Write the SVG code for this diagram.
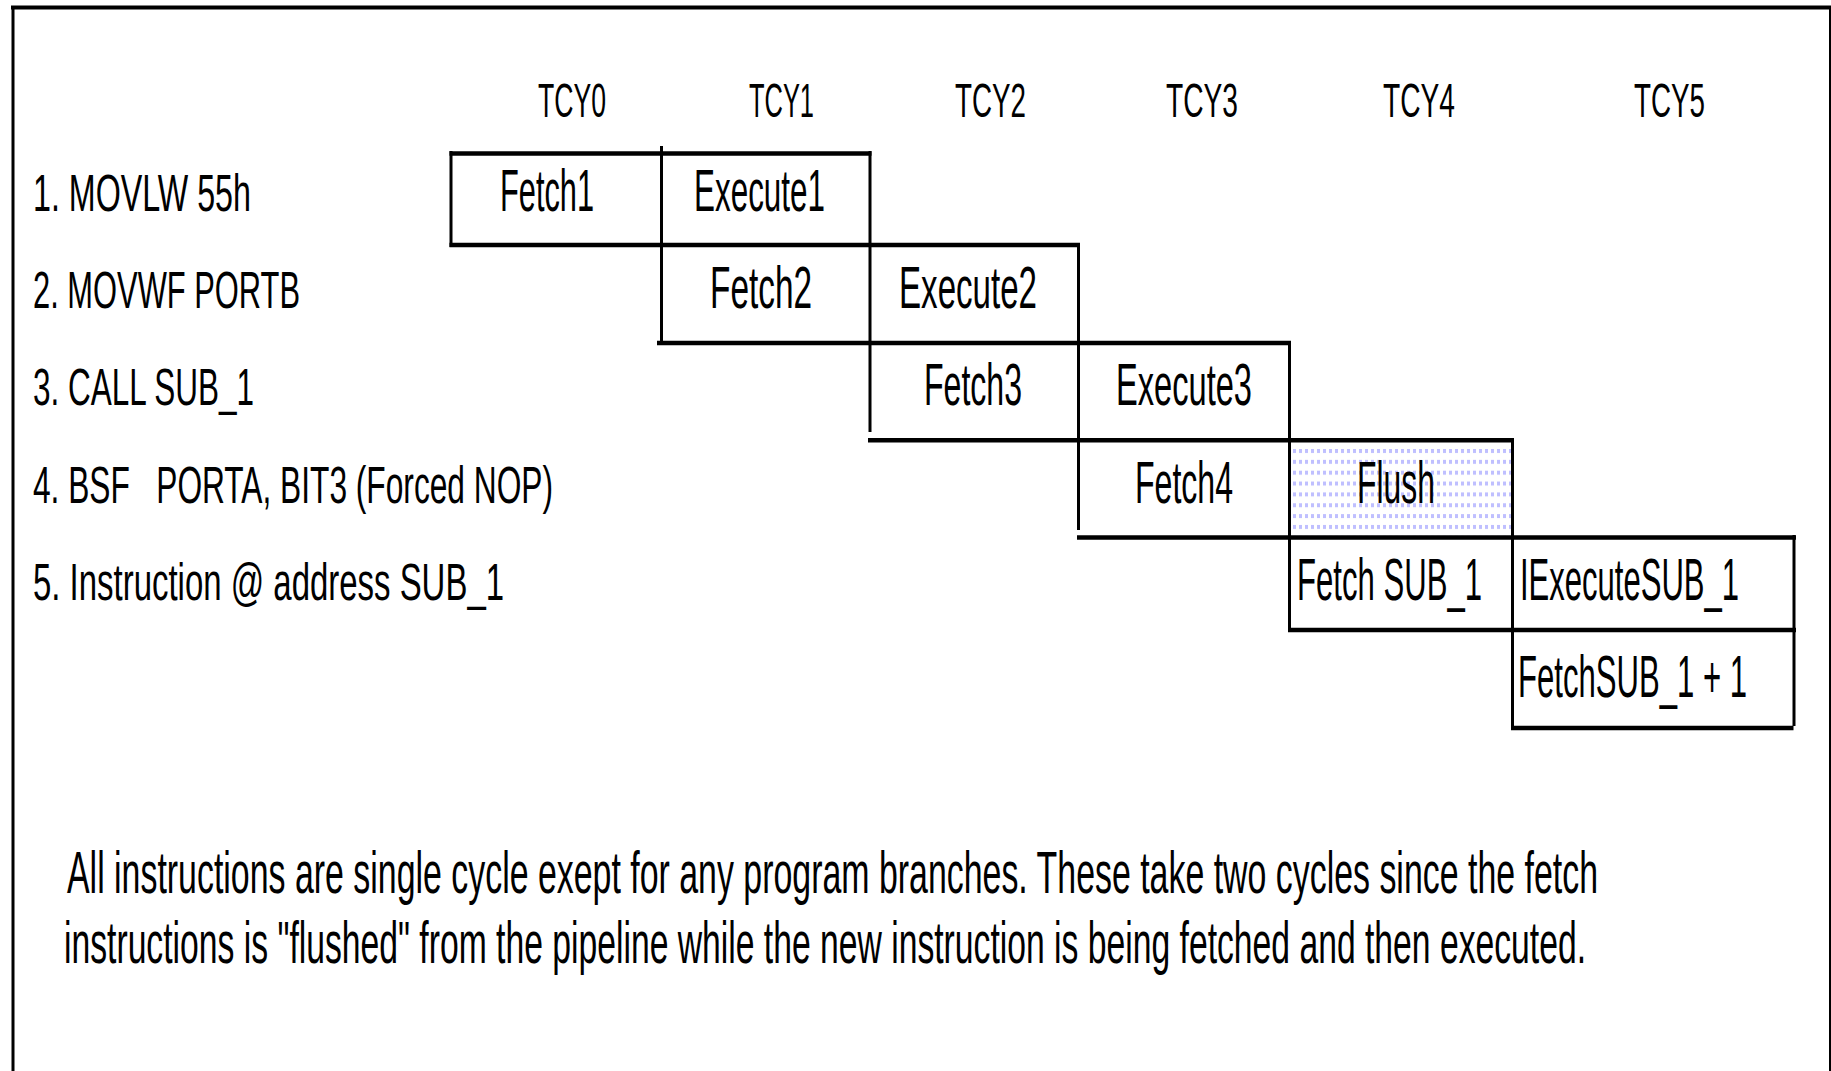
<svg xmlns="http://www.w3.org/2000/svg" width="1831" height="1071" viewBox="0 0 1831 1071">
<style>
text{font-family:"Liberation Sans",Arial,sans-serif;fill:#000}
.hdr{font-size:49px}
.lbl{font-size:51px}
.cell{font-size:60px}
.para{font-size:60px}
.h{stroke:#000;stroke-width:4.5;fill:none}
.v{stroke:#000;stroke-width:3;fill:none}
</style>
<defs>
<pattern id="dots" patternUnits="userSpaceOnUse" x="1293" y="449" width="6" height="10.85">
<rect x="0" y="0" width="3" height="4" fill="#bfbfff"/>
</pattern>
</defs>
<rect x="0" y="0" width="1831" height="1071" fill="#fff"/>
<g id="frame">
<line x1="11" y1="7.5" x2="1831" y2="7.5" stroke="#000" stroke-width="4"/>
<line x1="13" y1="6" x2="13" y2="1071" stroke="#000" stroke-width="3"/>
<line x1="1830" y1="6" x2="1830" y2="1071" stroke="#000" stroke-width="2"/>
</g>
<g id="headers">
<text class="hdr" transform="translate(538,117) scale(0.55,1)" textLength="123.6" lengthAdjust="spacingAndGlyphs">TCY0</text>
<text class="hdr" transform="translate(749,117) scale(0.55,1)" textLength="118.2" lengthAdjust="spacingAndGlyphs">TCY1</text>
<text class="hdr" transform="translate(955,117) scale(0.55,1)" textLength="129.1" lengthAdjust="spacingAndGlyphs">TCY2</text>
<text class="hdr" transform="translate(1166,117) scale(0.55,1)" textLength="130.9" lengthAdjust="spacingAndGlyphs">TCY3</text>
<text class="hdr" transform="translate(1383,117) scale(0.55,1)" textLength="130.9" lengthAdjust="spacingAndGlyphs">TCY4</text>
<text class="hdr" transform="translate(1634,117) scale(0.55,1)" textLength="129.1" lengthAdjust="spacingAndGlyphs">TCY5</text>
</g>
<g id="row-labels">
<text class="lbl" transform="translate(33,211) scale(0.62,1)" textLength="351.6" lengthAdjust="spacingAndGlyphs">1. MOVLW 55h</text>
<text class="lbl" transform="translate(33,308) scale(0.62,1)" textLength="430.6" lengthAdjust="spacingAndGlyphs">2. MOVWF PORTB</text>
<text class="lbl" transform="translate(33,405) scale(0.62,1)" textLength="356.5" lengthAdjust="spacingAndGlyphs">3. CALL SUB_1</text>
<text class="lbl" transform="translate(33,503) scale(0.62,1)" textLength="838.7" lengthAdjust="spacingAndGlyphs" xml:space="preserve">4. BSF   PORTA, BIT3 (Forced NOP)</text>
<text class="lbl" transform="translate(33,600) scale(0.62,1)" textLength="759.7" lengthAdjust="spacingAndGlyphs">5. Instruction @ address SUB_1</text>
</g>
<g id="flush-fill">
<rect x="1291" y="443" width="220" height="93" fill="url(#dots)"/>
</g>
<g id="connectors">
<line class="h" x1="449.5" y1="153.5" x2="871.5" y2="153.5"/>
<line class="h" x1="449.5" y1="245" x2="1080" y2="245"/>
<line class="h" x1="657" y1="343" x2="1291" y2="343"/>
<line class="h" x1="868" y1="440.3" x2="1514" y2="440.3"/>
<line class="h" x1="1077" y1="537.5" x2="1796" y2="537.5"/>
<line class="h" x1="1288" y1="630" x2="1796" y2="630"/>
<line class="h" x1="1511" y1="728" x2="1793.5" y2="728"/>
<line class="v" x1="451" y1="151" x2="451" y2="247"/>
<line class="v" x1="661.5" y1="146" x2="661.5" y2="345"/>
<line class="v" x1="870" y1="151" x2="870" y2="432"/>
<line class="v" x1="1078.5" y1="243" x2="1078.5" y2="530"/>
<line class="v" x1="1289.5" y1="341" x2="1289.5" y2="632"/>
<line class="v" x1="1512.5" y1="438" x2="1512.5" y2="730"/>
<line class="v" x1="1794" y1="535" x2="1794" y2="726"/>
</g>
<g id="cell-fetch1"><text class="cell" transform="translate(500,211) scale(0.52,1)" textLength="180.8" lengthAdjust="spacingAndGlyphs">Fetch1</text></g>
<g id="cell-execute1"><text class="cell" transform="translate(694,211) scale(0.52,1)" textLength="251.9" lengthAdjust="spacingAndGlyphs">Execute1</text></g>
<g id="cell-fetch2"><text class="cell" transform="translate(710,308) scale(0.52,1)" textLength="196.2" lengthAdjust="spacingAndGlyphs">Fetch2</text></g>
<g id="cell-execute2"><text class="cell" transform="translate(899,308) scale(0.52,1)" textLength="265.4" lengthAdjust="spacingAndGlyphs">Execute2</text></g>
<g id="cell-fetch3"><text class="cell" transform="translate(924,405) scale(0.52,1)" textLength="188.5" lengthAdjust="spacingAndGlyphs">Fetch3</text></g>
<g id="cell-execute3"><text class="cell" transform="translate(1116,405) scale(0.52,1)" textLength="261.5" lengthAdjust="spacingAndGlyphs">Execute3</text></g>
<g id="cell-fetch4"><text class="cell" transform="translate(1135,503) scale(0.52,1)" textLength="188.5" lengthAdjust="spacingAndGlyphs">Fetch4</text></g>
<g id="cell-flush"><text class="cell" transform="translate(1357,503) scale(0.52,1)" textLength="150" lengthAdjust="spacingAndGlyphs">Flush</text></g>
<g id="cell-fetch-sub1"><text class="cell" transform="translate(1297,600) scale(0.52,1)" textLength="355.8" lengthAdjust="spacingAndGlyphs">Fetch SUB_1</text></g>
<g id="cell-execute-sub1"><text class="cell" transform="translate(1520,600) scale(0.52,1)" textLength="421.2" lengthAdjust="spacingAndGlyphs">IExecuteSUB_1</text></g>
<g id="cell-fetch-sub1-plus1"><text class="cell" transform="translate(1518,697) scale(0.52,1)" textLength="440.4" lengthAdjust="spacingAndGlyphs">FetchSUB_1 + 1</text></g>
<g id="note">
<text class="para" transform="translate(67,893) scale(0.52,1)" textLength="2944.2" lengthAdjust="spacingAndGlyphs">All instructions are single cycle exept for any program branches. These take two cycles since the fetch</text>
<text class="para" transform="translate(64,963) scale(0.52,1)" textLength="2926.9" lengthAdjust="spacingAndGlyphs">instructions is "flushed" from the pipeline while the new instruction is being fetched and then executed.</text>
</g>
</svg>
